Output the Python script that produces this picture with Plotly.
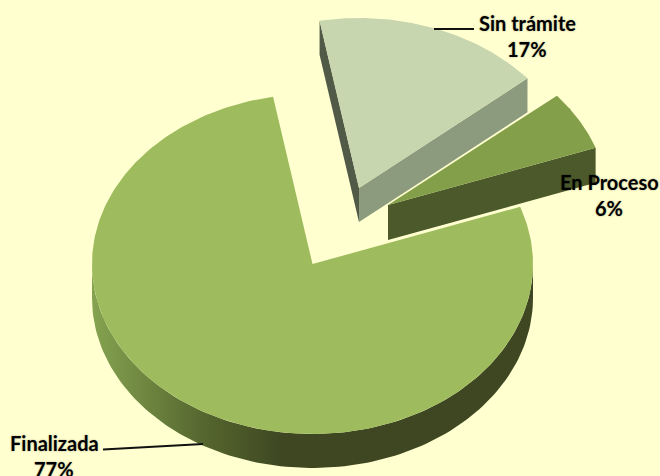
import numpy as np
import plotly.graph_objects as go

categories = ["Sin trámite", "En Proceso", "Finalizada"]
values = [16.7, 5.7, 77.6]
percent_labels = ["17%", "6%", "77%"]

# Geometry of the drawing (pixels)
CX, CY, RX, RY, DEPTH = 312.5, 264, 220.5, 170, 34
START_ANGLE = -10.3
EXPLODE = [(46.5, -76), (75.5, -59), (0, 0)]
TOP_COLORS = ["#C8D6B0", "#839F49", "#9EBC5E"]
BG = "#FFFFD0"
LABEL_POS = [(527, 23, 49), (609, 182, 208), (54, 443, 469)]
LEADERS = [[(434, 29), (474, 29)], None, [(103, 449.5), (203, 444)]]


def arc(a0, a1, cx, cy, n=120):
    t = np.radians(np.linspace(a0, a1, n))
    return cx + RX * np.sin(t), cy - RY * np.cos(t)


def poly(fig, x, y, color=None, grad=None):
    kw = dict(fillgradient=grad) if grad else dict(fillcolor=color)
    fig.add_trace(go.Scatter(x=list(x), y=list(y), mode="lines", fill="toself",
                             line=dict(width=0), hoverinfo="skip", showlegend=False, **kw))


angles = START_ANGLE + np.concatenate([[0], np.cumsum(values)]) * 3.6
fig = go.Figure()

# Finalizada (drawn first, behind the exploded slices)
a0, a1 = angles[2], angles[3]
cx, cy = CX + EXPLODE[2][0], CY + EXPLODE[2][1]
ax, ay = arc(90, 270, cx, cy)
poly(fig, np.r_[ax, ax[::-1]], np.r_[ay, ay[::-1] + DEPTH], grad=dict(
    type="horizontal",
    colorscale=[[0, "#85A350"], [0.25, "#56672F"], [0.43, "#3E4721"], [1, "#3E4721"]]))
tx, ty = arc(a0, a1, cx, cy, 300)
poly(fig, np.r_[cx, tx, cx], np.r_[cy, ty, cy], TOP_COLORS[2])

# Sin trámite
a0, a1 = angles[0], angles[1]
cx, cy = CX + EXPLODE[0][0], CY + EXPLODE[0][1]
tx, ty = arc(a0, a1, cx, cy)
poly(fig, [tx[0], cx, cx, tx[0]], [ty[0], cy, cy + DEPTH, ty[0] + DEPTH], "#505A47")
poly(fig, [tx[-1], cx, cx, tx[-1]], [ty[-1], cy, cy + DEPTH, ty[-1] + DEPTH], "#8C9A7E")
poly(fig, np.r_[cx, tx, cx], np.r_[cy, ty, cy], TOP_COLORS[0])

# En Proceso
a0, a1 = angles[1], angles[2]
cx, cy = CX + EXPLODE[1][0], CY + EXPLODE[1][1]
tx, ty = arc(a0, a1, cx, cy)
poly(fig, [tx[-1], cx, cx, tx[-1]], [ty[-1], cy, cy + DEPTH + 1, ty[-1] + DEPTH + 1], "#4C5A2B")
poly(fig, np.r_[cx, tx, cx], np.r_[cy, ty, cy], TOP_COLORS[1])

# Leader lines
for seg in LEADERS:
    if seg:
        fig.add_trace(go.Scatter(x=[p[0] for p in seg], y=[p[1] for p in seg], mode="lines",
                                 line=dict(color="#111111", width=1.8), hoverinfo="skip", showlegend=False))

# Labels
font = dict(family="Lato, Carlito, sans-serif", size=20, color="#000000",
            weight="bold", shadow="0 0 2px rgba(0,0,0,0.35)")
for name, pct, (lx, y1, y2) in zip(categories, percent_labels, LABEL_POS):
    for txt, ly in ((name, y1), (pct, y2)):
        fig.add_annotation(x=lx, y=ly, text=txt, showarrow=False, font=font,
                           xanchor="center", yanchor="middle")

fig.update_layout(
    width=660, height=476, margin=dict(l=0, r=0, t=0, b=0), autosize=False,
    paper_bgcolor=BG, plot_bgcolor=BG, showlegend=False,
    xaxis=dict(range=[0, 660], visible=False, fixedrange=True),
    yaxis=dict(range=[476, 0], visible=False, fixedrange=True),
)
fig.write_html("out.html", config={"displayModeBar": False},
               post_script="document.body.style.margin='0';document.body.style.overflow='hidden';document.body.style.background='#FFFFD0';")
